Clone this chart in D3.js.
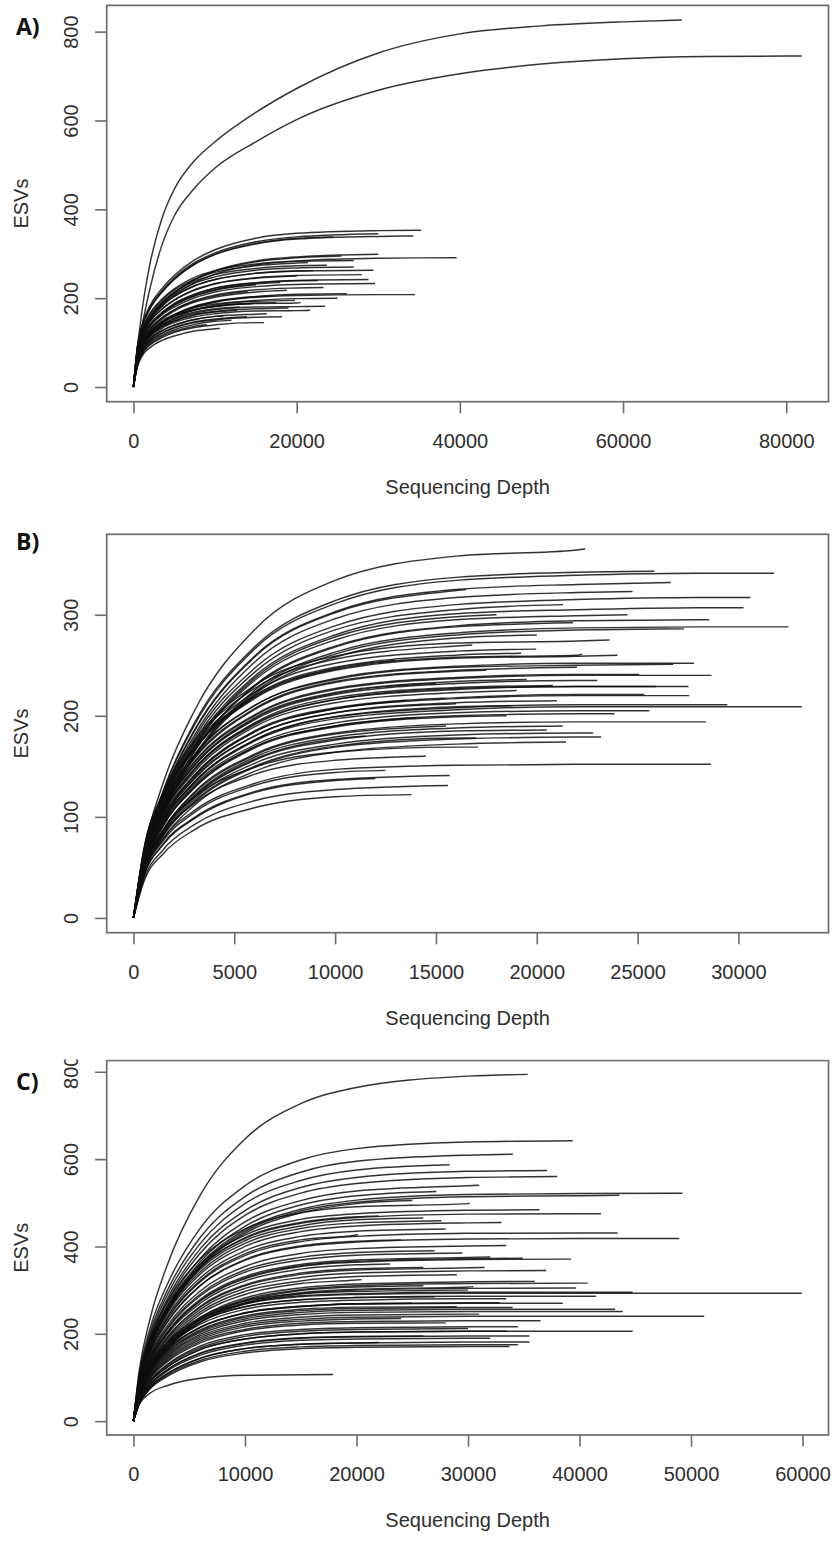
<!DOCTYPE html>
<html>
<head>
<meta charset="utf-8">
<script src="https://cdn.jsdelivr.net/npm/d3@7/dist/d3.min.js"></script>
<style>
  html, body { margin: 0; padding: 0; background: #fff; }
  svg { display: block; }
</style>
</head>
<body>
<script>
// rarefaction curves: each row = ESVs at the grid depths below the curve's end depth, last entry = ESVs at end depth

// ---- panel A ----
var depthGridA = [500, 1000, 2000, 3500, 5000, 7500, 10000, 15000, 20000, 30000, 40000, 50000, 60000, 70000, 80000];
var endDepthA = [67200, 81900, 35260, 34300, 24500, 30000, 39600, 30000, 34500, 29400, 29600, 28800,
                 28000, 27000, 27000, 26150, 23300, 23500, 21650, 18200, 19800, 10600, 16350, 22600,
                 23700, 21400, 18800, 17000, 14700, 12700, 13900, 20000, 15000, 25000, 16000, 19000,
                 12000, 22000, 25500, 17500, 11000, 14000, 9000, 18000, 20500, 13000];
var esvA = [
  [90, 165, 275, 380, 445, 510, 552, 618, 672, 752, 795, 813, 822, 826],
  [70, 130, 220, 320, 385, 448, 493, 552, 602, 668, 705, 727, 739, 744, 745, 745],
  [93, 137, 182, 222, 251, 286, 309, 335, 346, 352, 353],
  [89, 132, 175, 213, 242, 276, 298, 322, 333, 339, 340],
  [90, 133, 176, 215, 243, 277, 299, 324, 335, 338],
  [91, 134, 178, 217, 246, 280, 302, 327, 338, 345],
  [76, 113, 150, 182, 206, 235, 254, 275, 284, 290, 291],
  [79, 116, 154, 188, 213, 242, 262, 284, 293, 299],
  [62, 92, 120, 144, 161, 179, 191, 202, 206, 208, 208],
  [79, 116, 152, 183, 204, 228, 242, 256, 261, 263],
  [70, 103, 135, 162, 180, 201, 214, 226, 231, 233],
  [73, 107, 140, 168, 188, 209, 223, 235, 240, 242],
  [76, 112, 147, 176, 196, 219, 233, 246, 251, 253],
  [86, 126, 165, 198, 221, 247, 262, 277, 283, 285],
  [81, 120, 156, 188, 209, 234, 248, 263, 268, 270],
  [63, 93, 122, 146, 163, 182, 193, 204, 209, 210],
  [68, 100, 130, 156, 174, 195, 207, 219, 223, 224],
  [61, 90, 117, 138, 152, 166, 174, 180, 181, 182],
  [58, 85, 111, 132, 145, 158, 165, 171, 172, 173],
  [53, 78, 102, 121, 133, 145, 151, 157, 158],
  [65, 96, 125, 149, 163, 179, 187, 193, 195],
  [46, 68, 88, 105, 115, 126, 131, 132],
  [56, 82, 107, 127, 139, 152, 159, 164, 165],
  [72, 107, 140, 167, 187, 209, 222, 234, 239, 240],
  [83, 122, 159, 191, 213, 238, 253, 267, 273, 274],
  [84, 124, 163, 195, 218, 243, 258, 273, 279, 280],
  [66, 97, 128, 153, 171, 191, 202, 214, 218],
  [63, 93, 121, 145, 162, 181, 192, 203, 205],
  [64, 94, 122, 145, 159, 174, 182, 188],
  [59, 87, 114, 135, 148, 162, 169, 173],
  [54, 79, 103, 122, 134, 147, 153, 158],
  [76, 112, 146, 175, 195, 218, 232, 245, 250],
  [71, 105, 137, 165, 184, 205, 218, 230],
  [60, 89, 116, 139, 155, 173, 184, 195, 199, 200],
  [49, 72, 94, 111, 123, 134, 140, 145, 145],
  [60, 88, 115, 136, 149, 163, 170, 176, 178],
  [52, 76, 99, 117, 129, 141, 148, 150],
  [79, 116, 152, 183, 204, 228, 242, 256, 261, 262],
  [78, 116, 153, 187, 212, 241, 261, 282, 291, 295],
  [64, 94, 123, 145, 160, 174, 182, 189, 190],
  [56, 82, 107, 127, 139, 152, 159, 160],
  [67, 99, 129, 155, 173, 193, 205, 215],
  [50, 74, 96, 114, 125, 137, 140],
  [71, 105, 138, 165, 185, 206, 219, 232, 235],
  [64, 94, 122, 144, 159, 174, 181, 188, 189, 190],
  [62, 91, 118, 140, 154, 169, 176, 180]
];
var xTicksA = [0, 20000, 40000, 60000, 80000];
var yTicksA = [0, 200, 400, 600, 800];

// ---- panel B ----
var depthGridB = [500, 1500, 3000, 6000, 10000, 16000, 22000, 28000];
var endDepthB = [22400, 31770, 25830, 26650, 24750, 30600, 30250, 21300, 28550, 32480, 27300, 23600,
                 19970, 22250, 19230, 27800, 26770, 28660, 25080, 27520, 25900, 27560, 25330, 33140,
                 29450, 25580, 23850, 28380, 21290, 23190, 22800, 21450, 17080, 28630, 15680, 15600,
                 13780, 18000, 16500, 20000, 17500, 15000, 19000, 16000, 21000, 14000, 18500, 20500,
                 17000, 15500, 19500, 13000, 22000, 16800, 21800, 14500, 12500, 18800, 20800, 24000,
                 13500, 11500, 24500, 23000, 12000];
var esvB = [
  [64, 135, 204, 285, 334, 358, 364, 365],
  [60, 126, 190, 266, 311, 334, 339, 341, 341],
  [61, 127, 192, 268, 314, 337, 342, 343],
  [58, 123, 185, 259, 303, 325, 330, 332],
  [57, 120, 180, 253, 296, 317, 322, 323],
  [56, 117, 177, 247, 289, 310, 315, 317, 317],
  [54, 114, 171, 239, 280, 301, 305, 307, 307],
  [55, 115, 174, 243, 285, 305, 310],
  [52, 109, 164, 230, 269, 289, 294, 295, 295],
  [51, 107, 160, 225, 263, 282, 287, 288, 288],
  [50, 106, 159, 223, 261, 280, 285, 286],
  [66, 125, 175, 230, 259, 272, 274, 275],
  [64, 122, 170, 223, 252, 264, 266],
  [63, 119, 166, 218, 246, 258, 260, 261],
  [63, 120, 168, 220, 248, 260, 262],
  [61, 115, 161, 210, 237, 249, 252, 252],
  [60, 114, 160, 210, 236, 248, 250, 251],
  [58, 109, 153, 200, 226, 237, 240, 240, 240],
  [58, 110, 154, 201, 227, 238, 241, 241],
  [55, 104, 146, 191, 216, 226, 229, 229],
  [56, 105, 147, 192, 216, 227, 229, 229],
  [53, 100, 140, 184, 207, 217, 220, 220],
  [53, 101, 141, 185, 208, 218, 221, 221],
  [50, 95, 133, 175, 197, 206, 209, 209, 209],
  [51, 96, 134, 176, 199, 208, 211, 211, 211],
  [49, 93, 131, 171, 193, 203, 205, 205],
  [49, 92, 129, 169, 190, 200, 202, 202],
  [47, 88, 124, 162, 183, 192, 194, 194, 194],
  [46, 87, 121, 159, 179, 188, 190],
  [43, 82, 114, 149, 169, 177, 179, 179],
  [44, 83, 117, 153, 172, 181, 183, 183],
  [42, 79, 111, 145, 164, 172, 174],
  [48, 88, 119, 149, 164, 169, 169],
  [43, 79, 106, 133, 147, 151, 152, 152, 152],
  [40, 74, 99, 125, 137, 141],
  [37, 68, 92, 116, 127, 131],
  [35, 64, 87, 109, 120, 122],
  [54, 112, 169, 237, 278, 298, 300],
  [58, 122, 184, 258, 302, 324, 325],
  [50, 105, 158, 221, 258, 277, 280],
  [60, 113, 157, 206, 233, 244, 245],
  [57, 108, 150, 197, 222, 232],
  [54, 103, 144, 189, 213, 223, 225],
  [52, 98, 137, 180, 203, 212],
  [52, 98, 138, 180, 203, 213, 215],
  [49, 92, 129, 169, 190, 198],
  [48, 92, 128, 168, 189, 199, 200],
  [45, 85, 119, 156, 176, 185, 186],
  [43, 82, 115, 150, 170, 178, 178],
  [47, 88, 123, 161, 182, 190],
  [57, 108, 151, 198, 223, 234, 236],
  [63, 119, 167, 219, 247, 255],
  [60, 113, 158, 207, 234, 245, 248],
  [66, 124, 173, 227, 256, 269, 270],
  [52, 109, 164, 229, 268, 288, 292],
  [46, 84, 113, 142, 156, 160],
  [42, 77, 104, 131, 144, 146],
  [51, 96, 134, 176, 199, 209, 210],
  [56, 105, 147, 193, 218, 228, 230],
  [63, 119, 166, 217, 245, 257, 259, 260],
  [53, 100, 140, 184, 207, 215],
  [45, 86, 120, 157, 177, 180],
  [53, 111, 168, 235, 275, 295, 299, 300],
  [57, 107, 150, 196, 221, 232, 235, 235],
  [40, 73, 98, 124, 136, 138]
];
var xTicksB = [0, 5000, 10000, 15000, 20000, 25000, 30000];
var yTicksB = [0, 100, 200, 300];

// ---- panel C ----
var depthGridC = [500, 1500, 3000, 6000, 10000, 15000, 20000, 30000, 40000, 50000];
var endDepthC = [35360, 39390, 34020, 28350, 37100, 49240, 43570, 27160, 30140, 36410, 41930, 27610,
                 26000, 43420, 48940, 33430, 39250, 34910, 32000, 31490, 26000, 40730, 39700, 59930,
                 44760, 41490, 33430, 32830, 43870, 43200, 51180, 44760, 34470, 33500, 35510, 34470,
                 33720, 17900, 20450, 20150, 25000, 22000, 28000, 24000, 27000, 23000, 29000, 26000,
                 30000, 27000, 25000, 29000, 31000, 24000, 28000, 30000, 26000, 32000, 22000, 30500,
                 36000, 33000, 31000, 38000, 29500, 37000, 34000, 36500, 38500, 35500];
var esvC = [
  [112, 235, 355, 518, 646, 727, 764, 790, 794],
  [105, 213, 311, 442, 539, 598, 624, 639, 642],
  [100, 203, 297, 421, 514, 570, 595, 609, 611],
  [97, 196, 287, 407, 498, 551, 575, 587],
  [94, 190, 278, 395, 482, 535, 558, 572, 574],
  [85, 173, 253, 359, 438, 485, 506, 519, 521, 522],
  [84, 171, 250, 355, 434, 481, 501, 514, 516, 517],
  [87, 176, 257, 365, 446, 495, 516, 526],
  [95, 189, 270, 371, 440, 477, 491, 498, 499],
  [91, 182, 261, 359, 426, 462, 475, 483, 484],
  [90, 179, 256, 352, 418, 453, 466, 474, 475, 475],
  [87, 174, 249, 342, 407, 441, 454, 459],
  [89, 177, 253, 348, 413, 447, 461, 465],
  [81, 162, 232, 319, 379, 411, 423, 430, 431, 431],
  [79, 158, 225, 310, 368, 399, 410, 417, 418, 418],
  [76, 152, 217, 298, 354, 384, 395, 401, 402],
  [70, 140, 200, 275, 326, 354, 364, 370, 371],
  [70, 141, 201, 276, 328, 356, 366, 372, 373],
  [71, 142, 203, 279, 331, 359, 369, 375, 376],
  [67, 133, 190, 261, 310, 336, 346, 351, 352],
  [67, 134, 191, 263, 312, 339, 349, 352],
  [60, 119, 170, 234, 278, 301, 310, 315, 316, 316],
  [58, 115, 164, 226, 268, 291, 300, 304, 305],
  [65, 126, 176, 233, 268, 285, 290, 293, 293, 293, 293],
  [65, 127, 177, 234, 270, 287, 292, 295, 295, 295],
  [63, 123, 171, 227, 262, 278, 283, 286, 286, 286],
  [62, 120, 168, 222, 256, 272, 277, 280, 280],
  [60, 117, 162, 215, 248, 263, 269, 271, 271],
  [55, 108, 150, 199, 230, 244, 249, 251, 251, 251],
  [57, 110, 153, 203, 234, 249, 254, 256, 256, 256],
  [53, 103, 144, 191, 220, 233, 238, 240, 240, 240, 240],
  [46, 89, 123, 164, 188, 200, 204, 206, 206, 206],
  [48, 93, 129, 172, 198, 210, 214, 216, 216],
  [46, 89, 123, 164, 188, 200, 204, 206, 206],
  [40, 78, 108, 144, 166, 176, 179, 181, 181],
  [39, 75, 105, 139, 160, 170, 173, 175, 175],
  [38, 74, 102, 136, 156, 166, 169, 171, 171],
  [37, 64, 81, 98, 105, 106, 107],
  [62, 124, 178, 245, 290, 315, 323, 324],
  [82, 164, 234, 322, 383, 415, 426, 427],
  [84, 170, 248, 352, 430, 477, 498, 505],
  [90, 180, 257, 353, 420, 455, 468, 470],
  [84, 167, 239, 328, 390, 423, 435, 440],
  [79, 158, 226, 311, 370, 401, 412, 415],
  [74, 148, 212, 291, 346, 375, 386, 390],
  [69, 138, 197, 270, 321, 348, 358, 360],
  [64, 127, 182, 250, 297, 321, 331, 335],
  [59, 118, 169, 232, 275, 299, 307, 310],
  [66, 129, 180, 238, 275, 292, 297, 300],
  [63, 123, 171, 227, 262, 278, 283, 285],
  [60, 117, 162, 215, 248, 263, 269, 270],
  [58, 113, 158, 209, 241, 256, 261, 262],
  [54, 105, 147, 195, 224, 238, 243, 245, 245],
  [52, 101, 141, 187, 216, 229, 234, 235],
  [50, 97, 135, 179, 207, 220, 224, 225],
  [47, 91, 127, 168, 194, 206, 210, 212],
  [43, 84, 117, 156, 179, 191, 194, 195],
  [42, 82, 114, 151, 174, 185, 188, 190, 190],
  [40, 78, 108, 144, 166, 176, 179, 180],
  [58, 116, 166, 228, 271, 294, 302, 307, 308],
  [60, 121, 172, 237, 282, 305, 314, 319, 320],
  [86, 172, 245, 337, 400, 434, 447, 454, 455],
  [89, 180, 263, 373, 456, 505, 527, 539, 540],
  [91, 186, 272, 385, 471, 522, 544, 558, 560],
  [73, 146, 209, 287, 341, 369, 380, 385],
  [65, 130, 186, 256, 304, 329, 339, 344, 345],
  [57, 112, 156, 206, 238, 253, 258, 260, 260],
  [51, 99, 138, 183, 210, 224, 228, 230, 230],
  [60, 116, 162, 214, 247, 262, 268, 270, 270],
  [43, 84, 117, 155, 178, 190, 193, 195, 195]
];
var xTicksC = [0, 10000, 20000, 30000, 40000, 50000, 60000];
var yTicksC = [0, 200, 400, 600, 800];

var xTitle = 'Sequencing Depth';
var yTitle = 'ESVs';

var W = 836, H = 1564;
var boxLeft = 106.7, boxRight = 828.5;
var axisColor = '#6c6c6c', textColor = '#2e2e2e', lineColor = '#111';
var font = '"Liberation Sans", Arial, Helvetica, sans-serif';

var svg = d3.select('body').append('svg').attr('width', W).attr('height', H);

// slight softening, the source figure is a scanned bitmap
var defs = svg.append('defs');
defs.append('filter').attr('id', 'soft')
  .attr('x', '-2%').attr('y', '-2%').attr('width', '104%').attr('height', '104%')
  .append('feGaussianBlur').attr('stdDeviation', 0.45);

var panels = [
  {label: 'A)', grid: depthGridA, ends: endDepthA, rows: esvA, xTicks: xTicksA, yTicks: yTicksA,
   top: 5.4, bottom: 401.7, labelY: 35},
  {label: 'B)', grid: depthGridB, ends: endDepthB, rows: esvB, xTicks: xTicksB, yTicks: yTicksB,
   top: 534.3, bottom: 932.7, labelY: 550},
  {label: 'C)', grid: depthGridC, ends: endDepthC, rows: esvC, xTicks: xTicksC, yTicks: yTicksC,
   top: 1060.5, bottom: 1435, labelY: 1090, clipTop: 1059.5}
];

// turn one row into [depth, esv] points starting at the origin
function curvePoints(grid, end, row) {
  var pts = [[0, 0]];
  grid.filter(function(g){ return g < end; })
      .forEach(function(g, i){ pts.push([g, row[i]]); });
  pts.push([end, row[row.length - 1]]);
  return pts;
}

panels.forEach(function(p, pi) {
  var g = svg.append('g').attr('class', 'panel' + pi);

  if (p.clipTop) {
    defs.append('clipPath').attr('id', 'clip' + pi)
      .append('rect').attr('x', 0).attr('y', p.clipTop).attr('width', W).attr('height', H - p.clipTop);
    g.attr('clip-path', 'url(#clip' + pi + ')');
  }

  var xMax = d3.max(p.ends);
  var yMax = d3.max(p.rows, function(r){ return d3.max(r); });
  // R style: 4% padding on both ends of each axis
  var x = d3.scaleLinear().domain([-0.04 * xMax, 1.04 * xMax]).range([boxLeft, boxRight]);
  var y = d3.scaleLinear().domain([-0.04 * yMax, 1.04 * yMax]).range([p.bottom, p.top]);

  var line = d3.line()
    .x(function(d){ return x(d[0]); })
    .y(function(d){ return y(d[1]); })
    .curve(d3.curveMonotoneX);

  g.append('g').attr('filter', 'url(#soft)').selectAll('path')
    .data(p.rows)
    .enter().append('path')
      .attr('d', function(row, i){ return line(curvePoints(p.grid, p.ends[i], row)); })
      .attr('fill', 'none')
      .attr('stroke', lineColor)
      .attr('stroke-width', 1.45)
      .attr('stroke-opacity', 0.85);

  // frame
  g.append('rect')
    .attr('x', boxLeft).attr('y', p.top)
    .attr('width', boxRight - boxLeft).attr('height', p.bottom - p.top)
    .attr('fill', 'none').attr('stroke', axisColor).attr('stroke-width', 1.7);

  // bottom axis
  var xAxis = g.append('g').attr('transform', 'translate(0,' + p.bottom + ')')
    .call(d3.axisBottom(x).tickValues(p.xTicks).tickSize(11.6).tickFormat(d3.format('d')));
  // left axis
  var yAxis = g.append('g').attr('transform', 'translate(' + boxLeft + ',0)')
    .call(d3.axisLeft(y).tickValues(p.yTicks).tickSize(11.6).tickFormat(d3.format('d')));

  [xAxis, yAxis].forEach(function(ax){
    ax.select('.domain').remove();
    ax.selectAll('line').attr('stroke', axisColor).attr('stroke-width', 1.6);
    ax.selectAll('text').attr('font-family', font).attr('font-size', 20).attr('fill', textColor);
  });

  // x tick labels: baseline ~46px under the frame
  xAxis.selectAll('text').attr('y', 46).attr('dy', null);
  // y tick labels rotated like R's default las=0
  yAxis.selectAll('text')
    .attr('x', null).attr('dy', null)
    .attr('text-anchor', 'middle')
    .attr('transform', 'translate(' + (78.3 - boxLeft) + ',0) rotate(-90)')
    .attr('y', 0);

  g.append('text')
    .attr('x', (boxLeft + boxRight) / 2).attr('y', p.bottom + 92)
    .attr('text-anchor', 'middle')
    .attr('font-family', font).attr('font-size', 20).attr('fill', textColor)
    .text(xTitle);

  g.append('text')
    .attr('transform', 'translate(28.3,' + ((p.top + p.bottom) / 2) + ') rotate(-90)')
    .attr('text-anchor', 'middle')
    .attr('font-family', font).attr('font-size', 20).attr('fill', textColor)
    .text(yTitle);

  svg.append('text')
    .attr('x', 16).attr('y', p.labelY)
    .attr('font-family', '"Open Sans", "Noto Sans", sans-serif')
    .attr('font-weight', 700).attr('font-size', 23).attr('fill', '#111')
    .text(p.label);
});
</script>
</body>
</html>
